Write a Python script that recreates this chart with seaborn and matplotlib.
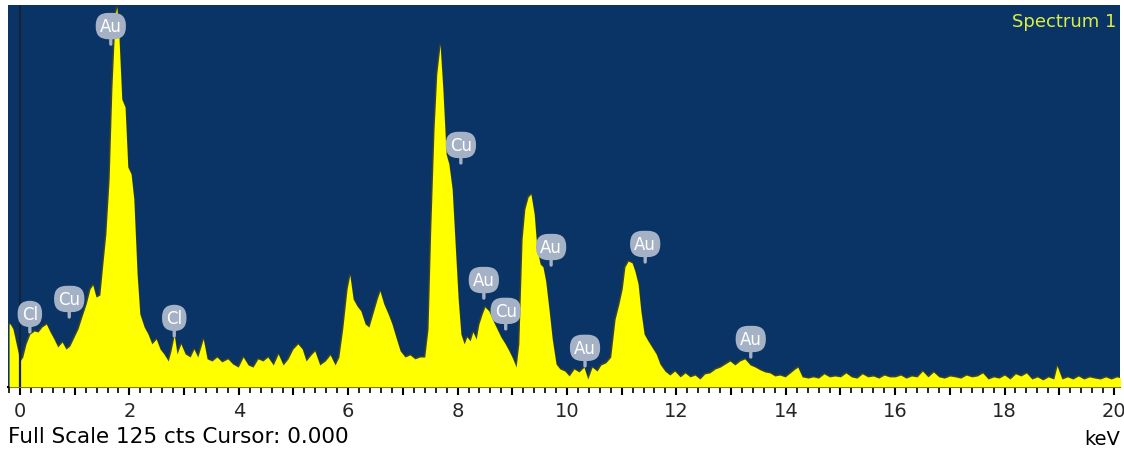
import matplotlib
matplotlib.use('Agg')
import matplotlib.pyplot as plt
from matplotlib.ticker import MultipleLocator, FuncFormatter
import seaborn as sns
import pandas as pd

# espectro EDS (keV, contagens)
energia = [-0.20, -0.18, -0.13, -0.07, 0.00, 0.05, 0.11, 0.18, 0.26, 0.33, 0.40, 0.48, 0.55, 0.62, 0.69,
           0.77, 0.84, 0.91, 0.99, 1.06, 1.13, 1.21, 1.28, 1.33, 1.39, 1.46, 1.52, 1.57, 1.63, 1.68,
           1.74, 1.77, 1.81, 1.86, 1.92, 1.97, 2.03, 2.08, 2.14, 2.19, 2.27, 2.34, 2.41, 2.49, 2.56,
           2.63, 2.71, 2.76, 2.82, 2.87, 2.94, 3.02, 3.11, 3.18, 3.25, 3.35, 3.42, 3.51, 3.60, 3.69,
           3.80, 3.89, 3.99, 4.08, 4.17, 4.26, 4.35, 4.44, 4.53, 4.63, 4.72, 4.81, 4.90, 4.99, 5.08,
           5.16, 5.23, 5.32, 5.39, 5.48, 5.58, 5.67, 5.76, 5.83, 5.90, 5.98, 6.03, 6.09, 6.16, 6.23,
           6.31, 6.38, 6.45, 6.53, 6.58, 6.65, 6.73, 6.80, 6.87, 6.95, 7.04, 7.13, 7.22, 7.31, 7.40,
           7.46, 7.51, 7.57, 7.62, 7.68, 7.73, 7.79, 7.84, 7.90, 7.95, 8.01, 8.06, 8.12, 8.17, 8.23,
           8.28, 8.34, 8.39, 8.45, 8.50, 8.57, 8.65, 8.72, 8.79, 8.87, 8.94, 9.01, 9.07, 9.12, 9.18,
           9.23, 9.29, 9.34, 9.40, 9.45, 9.51, 9.56, 9.61, 9.67, 9.73, 9.80, 9.87, 9.96, 10.04, 10.13,
           10.22, 10.31, 10.38, 10.46, 10.55, 10.62, 10.71, 10.80, 10.88, 10.95, 11.01, 11.06, 11.12, 11.19, 11.24,
           11.30, 11.35, 11.41, 11.48, 11.55, 11.63, 11.70, 11.79, 11.88, 11.97, 12.07, 12.16, 12.25, 12.34, 12.43,
           12.52, 12.61, 12.71, 12.80, 12.89, 12.98, 13.07, 13.16, 13.25, 13.35, 13.44, 13.53, 13.62, 13.71, 13.80,
           13.89, 13.99, 14.08, 14.17, 14.22, 14.30, 14.41, 14.50, 14.60, 14.70, 14.80, 14.90, 15.00, 15.10, 15.20,
           15.30, 15.40, 15.50, 15.60, 15.70, 15.80, 15.90, 16.00, 16.10, 16.20, 16.30, 16.40, 16.50, 16.60, 16.70,
           16.80, 16.90, 17.00, 17.10, 17.20, 17.30, 17.40, 17.50, 17.60, 17.70, 17.80, 17.90, 18.00, 18.10, 18.20,
           18.30, 18.40, 18.50, 18.60, 18.70, 18.80, 18.90, 18.96, 19.05, 19.15, 19.25, 19.35, 19.45, 19.55, 19.65,
           19.75, 19.85, 19.95, 20.05, 20.15]
contagens = [20.6, 20.6, 19.0, 14.1, 8.5, 9.8, 14.1, 17.3, 18.3, 18.0, 19.6, 20.6, 18.0, 15.7, 13.1,
             14.7, 12.4, 13.4, 16.4, 19.0, 22.9, 27.2, 32.1, 33.4, 29.4, 30.1, 41.2, 50.1, 68.1, 97.5,
             122.0, 124.3, 113.9, 94.2, 91.6, 72.0, 69.7, 61.5, 37.0, 23.9, 19.6, 17.3, 14.1, 15.7, 12.4,
             10.8, 8.5, 11.8, 17.0, 10.8, 14.1, 10.8, 9.8, 12.4, 9.8, 15.7, 9.2, 8.5, 9.8, 8.2,
             9.2, 7.5, 6.5, 9.8, 7.2, 6.5, 9.2, 8.5, 9.8, 7.2, 10.8, 7.2, 9.2, 12.4, 14.1,
             12.4, 8.5, 10.5, 11.8, 7.2, 8.5, 10.5, 7.2, 9.8, 19.0, 32.1, 36.6, 28.8, 26.5, 24.9,
             20.6, 19.6, 23.9, 28.8, 31.4, 27.2, 23.9, 20.6, 16.4, 11.8, 9.8, 10.5, 9.2, 9.8, 9.8,
             19.0, 51.7, 84.4, 102.4, 111.9, 97.5, 76.2, 73.0, 64.8, 48.4, 28.8, 17.3, 14.1, 16.4, 15.1,
             18.0, 15.7, 20.6, 23.9, 26.2, 24.9, 21.6, 19.0, 16.4, 14.1, 11.8, 9.2, 6.5, 14.1, 48.4,
             58.2, 62.2, 63.1, 56.6, 45.2, 40.2, 39.3, 34.7, 25.5, 15.7, 7.5, 5.9, 5.2, 3.6, 5.9,
             4.9, 6.5, 2.6, 6.5, 5.2, 7.2, 7.9, 9.8, 22.2, 27.2, 32.1, 39.3, 41.2, 40.6, 38.0,
             33.7, 24.9, 17.3, 15.1, 13.1, 10.8, 7.5, 5.2, 3.9, 5.2, 3.3, 4.6, 3.3, 3.9, 2.6,
             4.3, 4.6, 5.9, 6.5, 7.5, 8.5, 7.2, 8.5, 9.2, 7.2, 6.5, 5.6, 4.9, 4.6, 3.6,
             3.9, 3.3, 4.6, 5.9, 6.5, 3.3, 2.9, 3.3, 2.9, 4.3, 3.3, 3.6, 3.3, 4.6, 3.3,
             2.9, 4.3, 3.3, 3.6, 2.9, 3.9, 3.3, 3.3, 3.9, 2.9, 3.6, 3.3, 5.2, 3.3, 4.9,
             3.3, 2.9, 3.6, 3.3, 2.9, 3.9, 3.3, 3.6, 4.6, 2.6, 3.3, 2.9, 3.9, 2.6, 4.3,
             3.6, 4.6, 2.6, 3.3, 2.3, 3.3, 2.6, 6.9, 2.6, 3.3, 2.6, 3.6, 2.6, 3.3, 2.9,
             2.6, 3.3, 2.6, 3.3, 2.9]

# rotulos dos elementos (posicao da ponta do marcador)
rotulos = ['Au', 'Cu', 'Au', 'Cu', 'Au', 'Au', 'Au', 'Au', 'Cl', 'Cu', 'Cl']
rotulo_kev = [1.66, 8.06, 8.48, 8.88, 9.71, 11.43, 10.33, 13.36, 0.18, 0.90, 2.82]
rotulo_cts = [112.2, 73.3, 29.1, 19.0, 39.9, 40.9, 6.9, 9.8, 18.0, 22.9, 16.7]

df = pd.DataFrame({'keV': energia, 'cts': contagens})

sns.set_style('white')
plt.rcParams['font.family'] = ['DejaVu Sans']

fig = plt.figure(figsize=(11.24, 4.52), dpi=100)
ax = fig.add_axes([0.0071, 0.1416, 0.9893, 0.8451])
ax.set_facecolor('#0a3466')

sns.lineplot(data=df, x='keV', y='cts', ax=ax, color='#3f4620', lw=1.4,
             sort=False, estimator=None, zorder=2)
ax.fill_between(df['keV'], df['cts'], color='#ffff00', lw=0, zorder=3)
ax.axvline(0, color='#14233a', lw=1.6, zorder=4)

for nome, e, c in zip(rotulos, rotulo_kev, rotulo_cts):
    ax.annotate(nome, xy=(e, c), xytext=(0, 13), textcoords='offset points',
                ha='center', va='center', color='white', fontsize=12, zorder=6,
                bbox=dict(boxstyle='round,pad=0.25,rounding_size=0.75', fc='#a5b2c6', ec='none'),
                arrowprops=dict(arrowstyle='-', color='#a5b2c6', lw=2.4, shrinkA=0, shrinkB=0))

ax.text(0.9965, 0.958, 'Spectrum 1', transform=ax.transAxes, ha='right', va='center',
        color='#dcee45', fontsize=13)

ax.set_xlim(-0.22, 20.11)
ax.set_ylim(0, 125)
ax.set_xlabel('')
ax.set_ylabel('')
ax.set_yticks([])
for lado in ['top', 'right', 'left']:
    ax.spines[lado].set_visible(False)
ax.spines['bottom'].set_color('black')
ax.spines['bottom'].set_linewidth(1.5)

ax.xaxis.set_major_locator(MultipleLocator(1))
ax.xaxis.set_minor_locator(MultipleLocator(0.2))
ax.xaxis.set_major_formatter(FuncFormatter(lambda v, p: f'{int(round(v))}' if round(v) % 2 == 0 else ''))
ax.tick_params(axis='x', which='major', direction='out', length=6, width=1.5,
               color='black', labelsize=14, pad=4, bottom=True)
ax.tick_params(axis='x', which='minor', direction='out', length=4, width=1.2,
               color='black', bottom=True)

fig.text(8 / 1124, 0.033, 'Full Scale 125 cts Cursor: 0.000', ha='left', va='center',
         fontsize=15.5, color='black')
fig.text(0.965, 0.027, 'keV', ha='left', va='center', fontsize=14, color='black')

fig.savefig('out.png', dpi=100, facecolor='white')
